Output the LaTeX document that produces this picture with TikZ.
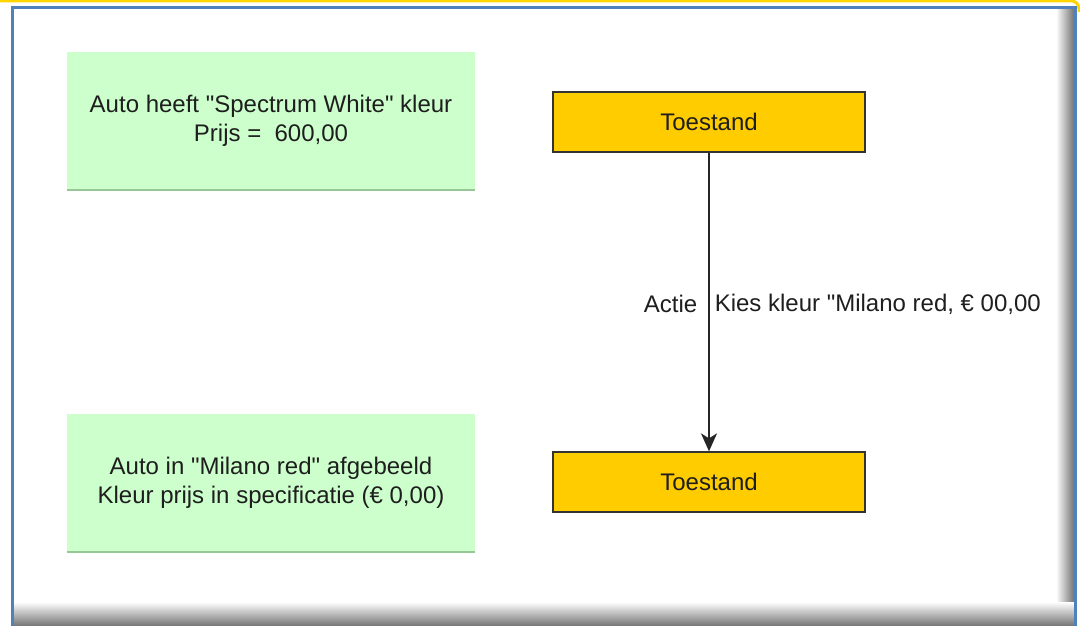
\documentclass[tikz,border=0pt]{standalone}
\usepackage{fontspec}
\setmainfont{Liberation Sans}[Ligatures=TeXOff]
\usepackage{tikz}
\usetikzlibrary{arrows.meta}

\definecolor{lichtgroen}{RGB}{204,255,204}
\definecolor{schaduwgroen}{RGB}{150,200,150}
\definecolor{goud}{RGB}{255,204,0}
\definecolor{kaderblauw}{RGB}{79,129,189}
\definecolor{randgeel}{RGB}{255,213,0}
\definecolor{tekstgrijs}{RGB}{30,30,30}

\tikzset{
  opmerking/.style={fill=lichtgroen, minimum width=408pt, minimum height=138pt, align=center, text=tekstgrijs, font=\fontsize{24}{29}\selectfont},
  toestand/.style={fill=goud, draw=black!80, line width=1.3pt, minimum width=312pt, minimum height=60pt, text=tekstgrijs, font=\fontsize{24}{29}\selectfont},
  overgang/.style={draw=black!85, line width=1.6pt, -{Stealth[length=18pt,width=16pt,inset=5pt]}},
  bijschrift/.style={midway, inner sep=0pt, text=tekstgrijs, font=\fontsize{24}{29}\selectfont}
}

\begin{document}
\begin{tikzpicture}[x=1pt,y=-1pt]
\useasboundingbox (0,0) rectangle (1080,626);
\fill[white] (0,0) rectangle (1080,626);
% kader
\shade[left color=white, right color=black!55] (1056,9) rectangle (1074,626);
\shade[top color=white, bottom color=black!55] (13,602) rectangle (1074,626);
\draw[kaderblauw, line width=3.2pt] (12.5,630) -- (12.5,7.5) -- (1075.5,7.5) -- (1075.5,630);
\draw[randgeel, line width=3pt, rounded corners=8pt] (0,0.8) -- (1079,0.8) -- (1079,12);
% opmerkingen
\node[opmerking] (wit) at (271,121) {Auto heeft "Spectrum White" kleur\\Prijs = \ 600,00};
\node[opmerking] (rood) at (271,482.5) {Auto in "Milano red" afgebeeld\\Kleur prijs in specificatie (€ 0,00)};
\draw[schaduwgroen, line width=2pt] (wit.south west) -- (wit.south east);
\draw[schaduwgroen, line width=2pt] (rood.south west) -- (rood.south east);
% toestanden
\node[toestand] (t1) at (709,122) {Toestand};
\node[toestand] (t2) at (709,482) {Toestand};
\draw[overgang] (t1) -- node[bijschrift, left, xshift=-11pt, yshift=-2pt] {Actie}
  node[bijschrift, right, xshift=5pt, yshift=-2pt] {Kies kleur "Milano red, € 00,00} (t2);
\end{tikzpicture}
\end{document}
